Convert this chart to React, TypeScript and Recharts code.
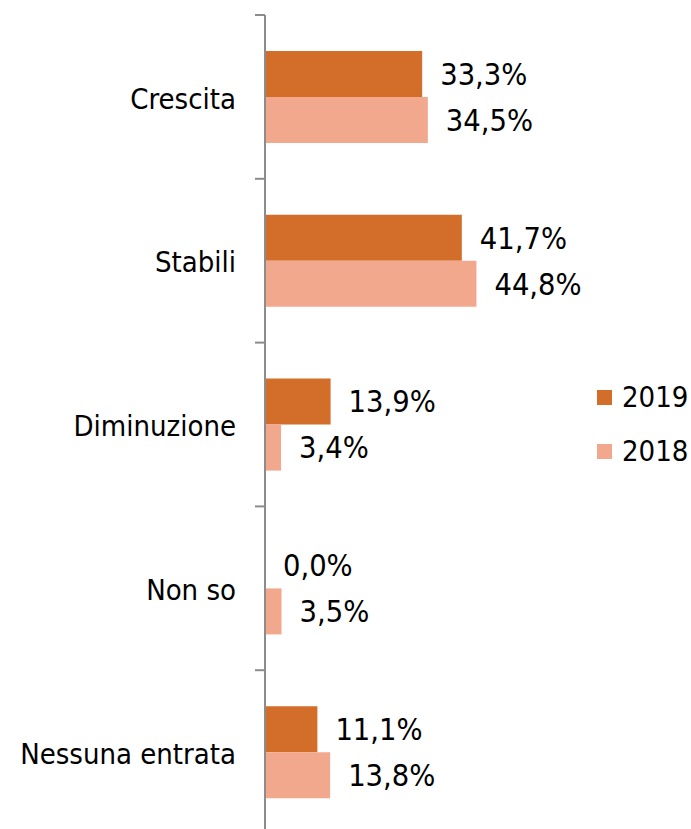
import { BarChart, Bar, XAxis, YAxis, Legend, LabelList } from 'recharts'

const CATEGORIES = ['Crescita', 'Stabili', 'Diminuzione', 'Non so', 'Nessuna entrata']
const VALUES_2019 = [33.3, 41.7, 13.9, 0.0, 11.1]
const VALUES_2018 = [34.5, 44.8, 3.4, 3.5, 13.8]
const SERIES_ORDER = ['2019', '2018']

const COLOR_2019 = '#D26E2A'
const COLOR_2018 = '#F2A88C'
const AXIS_COLOR = '#8C8C8C'
const FONT = '"DejaVu Sans Condensed", "DejaVu Sans", sans-serif'
const FONT_SIZE = 29
const LABEL_SIZE = 30.5

const WIDTH = 691
const HEIGHT = 834
const MARGIN = { top: 15, right: 190, bottom: 0, left: 0 }
const AXIS_W = 265
const BAND = (HEIGHT - MARGIN.top - MARGIN.bottom) / CATEGORIES.length

const data = CATEGORIES.map((name, i) => ({
  name,
  y2019: VALUES_2019[i],
  y2018: VALUES_2018[i],
}))

const fmt = (v: number | string | undefined) =>
  v == null ? '' : `${Number(v).toFixed(1).replace('.', ',')}%`

// keep zero bars in the layout (invisible sliver) so their label still shows
const keepZero = (v: number) => (v === 0 ? 0.01 : 0)

// category text in the middle, short tick line at the band's top edge (and bottom for the last one)
const CategoryTick = (props: any) => {
  const { y, payload, index } = props
  const top = y - BAND / 2
  return (
    <g>
      <line x1={AXIS_W - 10} x2={AXIS_W} y1={top} y2={top} stroke={AXIS_COLOR} strokeWidth={2} />
      {index === CATEGORIES.length - 1 && (
        <line x1={AXIS_W - 10} x2={AXIS_W} y1={top + BAND} y2={top + BAND} stroke={AXIS_COLOR} strokeWidth={2} />
      )}
      <text x={AXIS_W - 29} y={y} dy="0.4em" textAnchor="end" fontFamily={FONT} fontSize={FONT_SIZE} fill="#000">
        {payload.value}
      </text>
    </g>
  )
}

const LegendContent = (props: any) => {
  const items = [...(props.payload ?? [])].sort(
    (a: any, b: any) => SERIES_ORDER.indexOf(String(a.value)) - SERIES_ORDER.indexOf(String(b.value))
  )
  return (
    <div style={{ fontFamily: FONT, fontSize: FONT_SIZE, color: '#000' }}>
      {items.map((it: any) => (
        <div key={it.value} style={{ display: 'flex', alignItems: 'center', height: 54 }}>
          <span style={{ width: 15, height: 15, background: it.color, marginRight: 10, display: 'inline-block' }} />
          <span>{it.value}</span>
        </div>
      ))}
    </div>
  )
}

export default function App() {
  return (
    <div style={{ position: 'absolute', left: 0, top: 0, width: WIDTH, height: 829, overflow: 'hidden', background: '#fff' }}>
      <BarChart
        width={WIDTH}
        height={HEIGHT}
        data={data}
        layout="vertical"
        margin={MARGIN}
        barGap={0}
      >
        <XAxis type="number" domain={[0, 50]} hide />
        <Bar dataKey="y2019" name="2019" fill={COLOR_2019} barSize={46} minPointSize={keepZero} isAnimationActive={false}>
          <LabelList dataKey="y2019" position="right" offset={18} formatter={fmt}
            style={{ fontFamily: FONT, fontSize: LABEL_SIZE, fill: '#000' }} />
        </Bar>
        <Bar dataKey="y2018" name="2018" fill={COLOR_2018} barSize={46} minPointSize={keepZero} isAnimationActive={false}>
          <LabelList dataKey="y2018" position="right" offset={18} formatter={fmt}
            style={{ fontFamily: FONT, fontSize: LABEL_SIZE, fill: '#000' }} />
        </Bar>
        <YAxis
          type="category"
          dataKey="name"
          width={AXIS_W}
          axisLine={{ stroke: AXIS_COLOR, strokeWidth: 2 }}
          tickLine={false}
          tick={<CategoryTick />}
        />
        <Legend
          layout="horizontal"
          verticalAlign="middle"
          align="center"
          wrapperStyle={{ left: 597, top: 370, width: 'auto' }}
          content={<LegendContent />}
        />
      </BarChart>
    </div>
  )
}
